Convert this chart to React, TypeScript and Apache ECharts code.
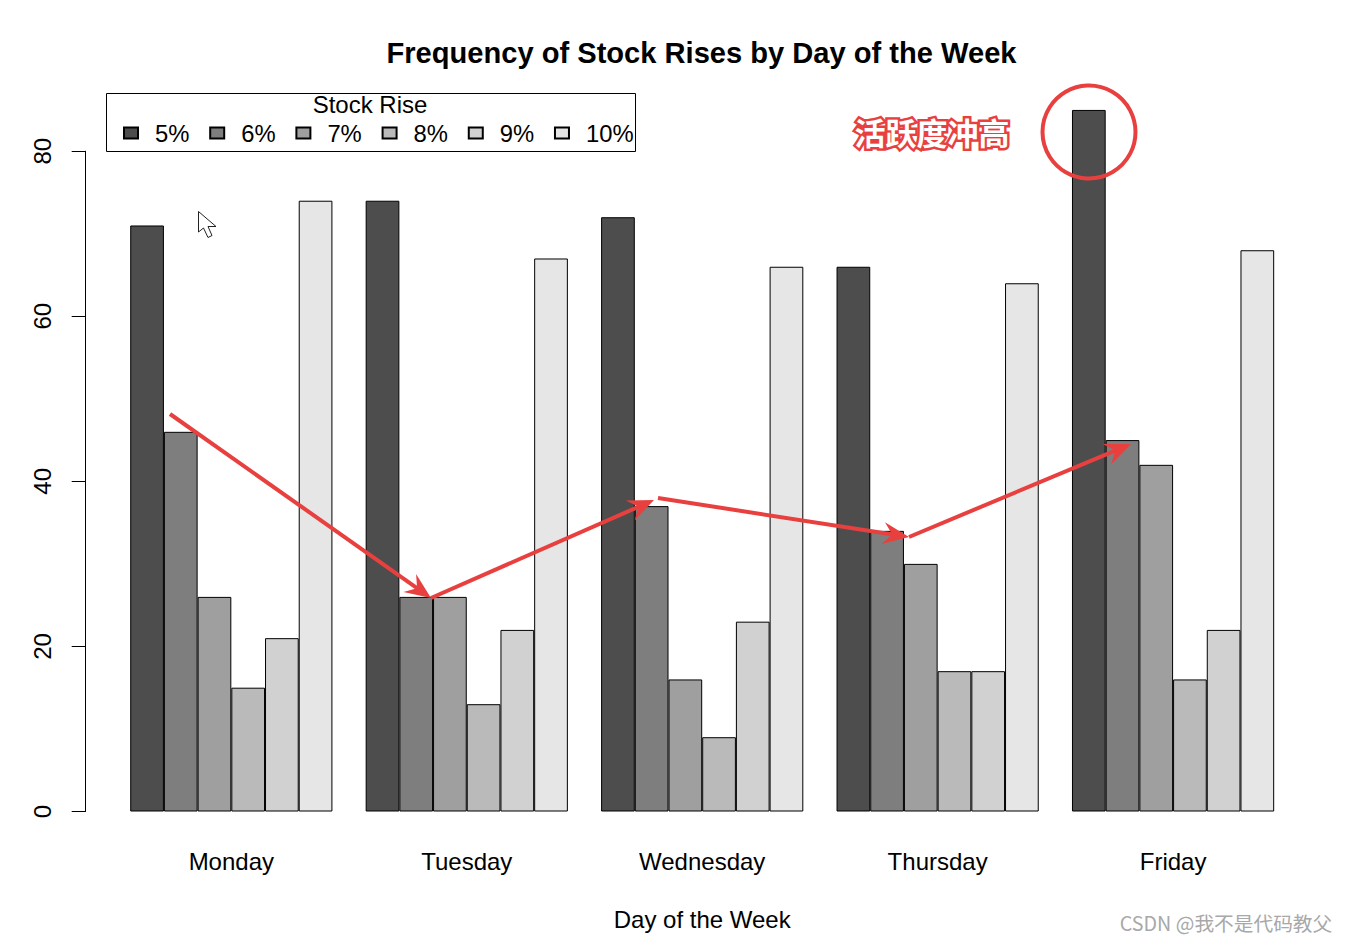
import React, { useEffect, useRef } from "react";
import * as echarts from "echarts";

const days = ["Monday", "Tuesday", "Wednesday", "Thursday", "Friday"];
const rise5 = [71, 74, 72, 66, 85];
const rise6 = [46, 26, 37, 34, 45];
const rise7 = [26, 26, 16, 30, 42];
const rise8 = [15, 13, 9, 17, 16];
const rise9 = [21, 22, 23, 17, 22];
const rise10 = [74, 67, 66, 64, 68];
const seriesNames = ["5%", "6%", "7%", "8%", "9%", "10%"];
const seriesValues = [rise5, rise6, rise7, rise8, rise9, rise10];
const grays = ["#4D4D4D", "#7E7E7E", "#9F9F9F", "#BABABA", "#D1D1D1", "#E6E6E6"];

const RED = "#E8403F";
const FONT = '"Liberation Sans", Arial, sans-serif';
const CJK = '"Noto Sans CJK SC", sans-serif';

function arrow(x1: number, y1: number, x2: number, y2: number) {
  const a = Math.atan2(y2 - y1, x2 - x1);
  const pt = (back: number, side: number) => [
    x2 - back * Math.cos(a) - side * Math.sin(a),
    y2 - back * Math.sin(a) + side * Math.cos(a),
  ];
  return [
    {
      type: "line",
      z: 100,
      shape: { x1, y1, x2: pt(8, 0)[0], y2: pt(8, 0)[1] },
      style: { stroke: RED, lineWidth: 4 },
    },
    {
      type: "polygon",
      z: 100,
      shape: { points: [[x2, y2], pt(26, 11), pt(17, 0), pt(26, -11)] },
      style: { fill: RED },
    },
  ];
}

export default function App() {
  const ref = useRef<HTMLDivElement>(null);
  useEffect(() => {
    const chart = echarts.init(ref.current!, undefined, { renderer: "svg" });
    chart.setOption({
      animation: false,
      backgroundColor: "#fff",
      title: {
        text: "Frequency of Stock Rises by Day of the Week",
        left: 701.5,
        top: 33,
        textAlign: "center",
        textStyle: { fontFamily: FONT, fontSize: 29.1, fontWeight: "bold", color: "#000" },
      },
      legend: {
        left: 123,
        top: 121,
        padding: 0,
        itemWidth: 14,
        itemHeight: 11,
        itemGap: 19.8,
        icon: "rect",
        data: seriesNames,
        selectedMode: false,
        textStyle: { fontFamily: FONT, fontSize: 23.8, color: "#000", padding: [0, 0, 0, 12] },
      },
      grid: { left: 113.6, right: 56.2, top: 151.2, bottom: 131.5 },
      xAxis: {
        type: "category",
        data: days,
        axisLine: { show: false },
        axisTick: { show: false },
        axisLabel: { fontFamily: FONT, fontSize: 24, color: "#000", margin: 38 },
        name: "Day of the Week",
        nameLocation: "middle",
        nameGap: 96,
        nameTextStyle: { fontFamily: FONT, fontSize: 24, color: "#000" },
      },
      yAxis: {
        type: "value",
        min: 0,
        max: 80,
        interval: 20,
        offset: 27.9,
        splitLine: { show: false },
        axisLine: { show: true, lineStyle: { color: "#000", width: 1 } },
        axisTick: { show: true, length: 14, lineStyle: { color: "#000", width: 1 } },
        axisLabel: { fontFamily: FONT, fontSize: 24, color: "#000", rotate: 90, margin: 31 },
      },
      series: seriesNames.map((name, i) => ({
        name,
        type: "bar",
        data: seriesValues[i],
        clip: false,
        barWidth: 33.7,
        barGap: 0,
        itemStyle: { color: grays[i], borderColor: "#000", borderWidth: 1 },
      })),
      graphic: [
        {
          type: "rect",
          z: 1,
          shape: { x: 106.5, y: 93.5, width: 529, height: 58 },
          style: { fill: "none", stroke: "#000", lineWidth: 1 },
        },
        {
          type: "text",
          z: 100,
          x: 370,
          y: 104,
          style: {
            text: "Stock Rise",
            fontFamily: FONT,
            fontSize: 24,
            fill: "#000",
            textAlign: "center",
            textVerticalAlign: "middle",
          },
        },
        {
          type: "polygon",
          z: 100,
          shape: {
            points: [
              [198.5, 211.5], [198.5, 232], [203.5, 228], [208, 237.5],
              [212, 235.5], [208, 226.5], [216, 226.5],
            ],
          },
          style: { fill: "#fff", stroke: "#222", lineWidth: 1 },
        },
        ...arrow(170, 414, 431, 598),
        ...arrow(431, 598, 654, 500),
        ...arrow(658, 498, 909, 537),
        ...arrow(909, 537, 1131, 444),
        {
          type: "circle",
          z: 100,
          shape: { cx: 1089, cy: 132, r: 46.5 },
          style: { fill: "none", stroke: RED, lineWidth: 4 },
        },
        {
          type: "text",
          z: 100,
          x: 932,
          y: 131.5,
          style: {
            text: "活跃度冲高",
            fontFamily: CJK,
            fontSize: 31,
            fontWeight: "bold",
            fill: RED,
            stroke: RED,
            lineWidth: 5,
            textAlign: "center",
            textVerticalAlign: "middle",
          },
        },
        {
          type: "text",
          z: 101,
          x: 932,
          y: 131.5,
          silent: true,
          style: {
            text: "活跃度冲高",
            fontFamily: CJK,
            fontSize: 31,
            fontWeight: "bold",
            fill: "#fff",
            textAlign: "center",
            textVerticalAlign: "middle",
          },
        },
        {
          type: "text",
          z: 100,
          x: 1226,
          y: 922,
          style: {
            text: "CSDN @我不是代码教父",
            fontFamily: CJK,
            fontSize: 19.7,
            fill: "#A8A8A8",
            textAlign: "center",
            textVerticalAlign: "middle",
          },
        },
      ],
    });
    chart.setOption({ title: { left: 696.5 } });
    return () => chart.dispose();
  }, []);
  return <div ref={ref} style={{ position: "absolute", left: 0, top: 0, width: 1347, height: 943 }} />;
}
